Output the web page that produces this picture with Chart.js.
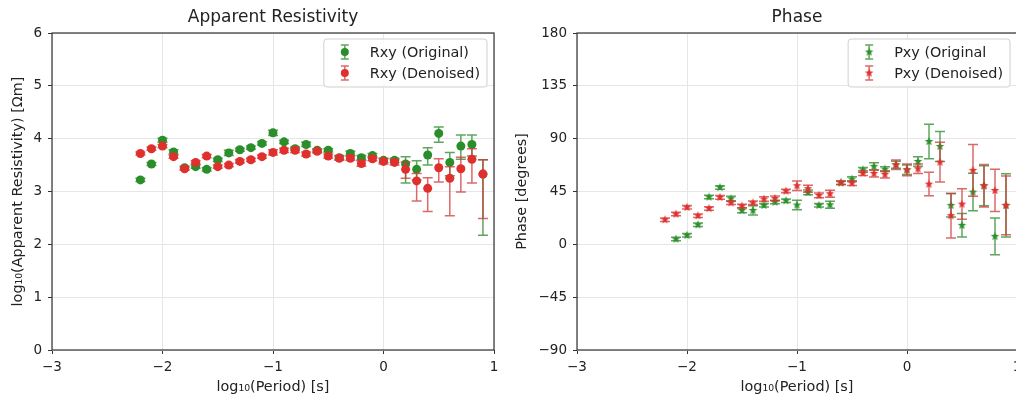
<!DOCTYPE html>
<html>
<head>
<meta charset="utf-8">
<script src="https://cdn.jsdelivr.net/npm/chart.js@4.4.1/dist/chart.umd.min.js"></script>
<style>
  html, body { margin: 0; padding: 0; background: #fff; overflow: hidden; }
  #wrap { position: relative; width: 1016px; height: 398px; overflow: hidden; }
  canvas { position: absolute; top: 0; }
  #rho { left: 0; }
  #phase { left: 508px; }
</style>
</head>
<body>
<div id="wrap">
  <canvas id="rho" width="508" height="398"></canvas>
  <canvas id="phase" width="520" height="398"></canvas>
</div>
<script>
// log10(period) for every estimate
const periods = [-2.2, -2.1, -2.0, -1.9, -1.8, -1.7, -1.6, -1.5, -1.4, -1.3, -1.2, -1.1, -1.0, -0.9, -0.8, -0.7,
                 -0.6, -0.5, -0.4, -0.3, -0.2, -0.1, 0.0, 0.1, 0.2, 0.3, 0.4, 0.5, 0.6, 0.7, 0.8, 0.9];

// apparent resistivity, log10 ohm-m
const rxyOrig = [3.22, 3.52, 3.97, 3.75, 3.45, 3.47, 3.42, 3.60, 3.73, 3.79, 3.83, 3.91, 4.11, 3.94, 3.81, 3.89,
                 3.78, 3.78, 3.64, 3.72, 3.64, 3.68, 3.59, 3.59, 3.52, 3.42, 3.69, 4.10, 3.55, 3.86, 3.89, 3.33];
const rxyOrigErrLo = [0.03, 0.03, 0.04, 0.04, 0.03, 0.03, 0.03, 0.03, 0.05, 0.03, 0.03, 0.03, 0.05, 0.03, 0.03, 0.04,
                      0.03, 0.03, 0.04, 0.04, 0.04, 0.04, 0.04, 0.04, 0.36, 0.20, 0.19, 0.17, 0.25, 0.25, 0.22, 1.16];
const rxyOrigErrHi = [0.03, 0.03, 0.04, 0.04, 0.03, 0.03, 0.03, 0.03, 0.05, 0.03, 0.03, 0.03, 0.05, 0.03, 0.03, 0.04,
                      0.03, 0.03, 0.04, 0.04, 0.04, 0.04, 0.04, 0.04, 0.14, 0.16, 0.14, 0.12, 0.19, 0.21, 0.18, 0.27];
const rxyDen = [3.72, 3.81, 3.86, 3.66, 3.43, 3.55, 3.67, 3.47, 3.50, 3.57, 3.60, 3.66, 3.74, 3.78, 3.78, 3.71,
                3.76, 3.67, 3.63, 3.63, 3.53, 3.62, 3.57, 3.55, 3.42, 3.20, 3.06, 3.45, 3.25, 3.43, 3.61, 3.33];
const rxyDenErrLo = [0.03, 0.03, 0.03, 0.03, 0.03, 0.03, 0.03, 0.03, 0.03, 0.03, 0.03, 0.03, 0.05, 0.04, 0.04, 0.04,
                     0.03, 0.04, 0.04, 0.04, 0.05, 0.04, 0.05, 0.05, 0.17, 0.38, 0.44, 0.27, 0.71, 0.44, 0.45, 0.84];
const rxyDenErrHi = [0.03, 0.03, 0.03, 0.03, 0.03, 0.03, 0.03, 0.03, 0.03, 0.03, 0.03, 0.03, 0.05, 0.04, 0.04, 0.04,
                     0.03, 0.04, 0.04, 0.04, 0.05, 0.04, 0.05, 0.05, 0.14, 0.14, 0.20, 0.17, 0.22, 0.22, 0.20, 0.27];

// phase, degrees
const pxyOrig = [null, 4.5, 7.7, 16.7, 40.3, 48.5, 38.9, 28.9, 28.9, 33.2, 36.0, 37.2, 33.5, 44.2, 33.2, 33.7,
                 52.5, 55.6, 63.5, 66.4, 64.1, 67.8, 63.5, 70.6, 87.6, 83.4, 33.2, 16.2, 44.5, 49.9, 6.8, 33.2];
const pxyOrigErr = [null, 1.5, 1.5, 1.5, 1.5, 1.5, 2, 2, 4, 1.5, 1.5, 1.5, 4, 2, 1.5, 3,
                    1.5, 2, 2, 3, 2, 3, 4, 4, 14.6, 12.8, 10, 10, 16, 17, 15.6, 27];
const pxyDen = [21.0, 25.8, 31.5, 24.4, 30.6, 40.0, 35.4, 32.6, 35.4, 38.6, 39.1, 45.4, 49.9, 47.4, 41.7, 43.1,
                52.5, 52.2, 60.7, 60.4, 59.6, 67.8, 63.5, 64.4, 51.3, 70.0, 24.4, 34.3, 63.0, 49.9, 45.9, 33.2];
const pxyDenErr = [1.5, 1.5, 1.5, 1.5, 1.5, 1.5, 1.5, 1.5, 1.5, 2, 2, 1.5, 4, 3, 2, 3,
                   1.5, 2, 2, 3, 3, 4, 5, 4, 10, 17, 19, 13, 22, 18, 18, 25];

const xTicks = [-3, -2, -1, 0, 1];
const rhoTicks = [0, 1, 2, 3, 4, 5, 6];
const phaseTicks = [-90, -45, 0, 45, 90, 135, 180];

const GREEN = '#2a8f2a';
const RED = '#e0302e';
const GREEN_ERR = 'rgba(40,135,40,0.75)';
const RED_ERR = 'rgba(205,55,55,0.75)';
const FONT = 'DejaVu Sans';

Chart.defaults.font.family = FONT;
Chart.defaults.color = '#222';

// filled 5-point star like matplotlib's '*'
function makeStar(color, r) {
    const c = document.createElement('canvas');
    const s = Math.ceil(r * 2 + 2);
    c.width = s; c.height = s;
    const g = c.getContext('2d');
    g.fillStyle = color;
    g.beginPath();
    for (let i = 0; i < 10; i++) {
        const rad = i % 2 === 0 ? r : r * 0.42;
        const a = -Math.PI / 2 + i * Math.PI / 5;
        const px = s / 2 + rad * Math.cos(a), py = s / 2 + rad * Math.sin(a);
        if (i === 0) g.moveTo(px, py); else g.lineTo(px, py);
    }
    g.closePath();
    g.fill();
    return c;
}

function points(ys) {
    return periods.map((p, i) => ({ x: p, y: ys[i] })).filter(d => d.y != null);
}
function errs(ys, e) {
    return e.filter((v, i) => ys[i] != null);
}

function minus(v) {
    return String(v).replace('-', '\u2212');
}

// vertical error bars drawn just under each dataset's markers
const errorBars = {
    id: 'errorBars',
    beforeDatasetDraw(chart, args) {
        const ds = chart.data.datasets[args.index];
        if (!ds.errLo) return;
        const ctx = chart.ctx, xs = chart.scales.x, ys = chart.scales.y, a = chart.chartArea;
        ctx.save();
        ctx.beginPath();
        ctx.rect(a.left, a.top, a.right - a.left, a.bottom - a.top);
        ctx.clip();
        ctx.strokeStyle = ds.errColor;
        ctx.lineWidth = 1.5;
        ds.data.forEach((d, i) => {
            const px = xs.getPixelForValue(d.x);
            const top = ys.getPixelForValue(d.y + ds.errHi[i]);
            const bot = ys.getPixelForValue(d.y - ds.errLo[i]);
            ctx.beginPath();
            ctx.moveTo(px, top); ctx.lineTo(px, bot);
            ctx.moveTo(px - 5, top); ctx.lineTo(px + 5, top);
            ctx.moveTo(px - 5, bot); ctx.lineTo(px + 5, bot);
            ctx.stroke();
        });
        ctx.restore();
    }
};

// title over the plot area, frame, and an inset legend
const decor = {
    id: 'decor',
    afterDraw(chart, args, opts) {
        const ctx = chart.ctx, a = chart.chartArea;
        ctx.save();
        ctx.strokeStyle = '#333';
        ctx.lineWidth = 1.2;
        ctx.strokeRect(a.left, a.top, a.right - a.left, a.bottom - a.top);

        ctx.fillStyle = '#222';
        ctx.font = '17px ' + FONT;
        ctx.textAlign = 'center';
        ctx.textBaseline = 'middle';
        ctx.fillText(opts.title, (a.left + a.right) / 2, 18);

        // legend
        ctx.font = '14.4px ' + FONT;
        const tw = Math.max(...chart.data.datasets.map(d => ctx.measureText(d.label).width));
        const w = 46 + tw + 7, h = 48;
        const x0 = a.right - 7 - w, y0 = a.top + 6;
        ctx.fillStyle = 'rgba(255,255,255,0.85)';
        ctx.strokeStyle = '#d0d0d0';
        ctx.lineWidth = 1;
        ctx.beginPath();
        ctx.roundRect(x0, y0, w, h, 3);
        ctx.fill();
        ctx.stroke();
        chart.data.datasets.forEach((d, i) => {
            const cy = y0 + 13 + i * 21, ix = x0 + 21;
            ctx.strokeStyle = d.errColor;
            ctx.lineWidth = 1.5;
            ctx.beginPath();
            ctx.moveTo(ix, cy - 7); ctx.lineTo(ix, cy + 7);
            ctx.moveTo(ix - 4, cy - 7); ctx.lineTo(ix + 4, cy - 7);
            ctx.moveTo(ix - 4, cy + 7); ctx.lineTo(ix + 4, cy + 7);
            ctx.stroke();
            if (d.pointStyle === 'circle') {
                ctx.fillStyle = d.backgroundColor;
                ctx.beginPath();
                ctx.arc(ix, cy, 4, 0, Math.PI * 2);
                ctx.fill();
            } else {
                ctx.drawImage(d.pointStyle, ix - d.pointStyle.width / 2, cy - d.pointStyle.height / 2);
            }
            ctx.fillStyle = '#222';
            ctx.textAlign = 'left';
            ctx.fillText(d.label, x0 + 46, cy + 1);
        });
        ctx.restore();
    }
};

function makeChart(id, cfg) {
    return new Chart(document.getElementById(id), {
        type: 'scatter',
        data: { datasets: cfg.datasets },
        plugins: [errorBars, decor],
        options: {
            responsive: false,
            animation: false,
            layout: { padding: { top: 33, right: cfg.padRight, left: 0, bottom: 0 } },
            plugins: {
                legend: { display: false },
                tooltip: { enabled: false },
                decor: { title: cfg.title }
            },
            scales: {
                x: {
                    min: -3, max: 1,
                    afterBuildTicks: s => { s.ticks = xTicks.map(v => ({ value: v })); },
                    afterFit: s => { s.height = 48; },
                    grid: { color: '#e6e6e6', tickColor: '#333', tickLength: 4 },
                    border: { display: false },
                    ticks: { padding: 5, font: { size: 13.5 }, callback: v => minus(v), maxRotation: 0 },
                    title: { display: true, text: 'log\u2081\u2080(Period) [s]', font: { size: 14.4 }, padding: { top: 2, bottom: 2 } }
                },
                y: {
                    min: cfg.yMin, max: cfg.yMax,
                    afterBuildTicks: s => { s.ticks = cfg.yTicks.map(v => ({ value: v })); },
                    afterFit: s => { s.width = cfg.yWidth; },
                    grid: { color: '#e6e6e6', tickColor: '#333', tickLength: 4 },
                    border: { display: false },
                    ticks: { padding: 6, font: { size: 13.5 }, callback: v => minus(v) },
                    title: { display: true, text: cfg.yTitle, font: { size: 14.4 }, padding: { top: cfg.yTitlePad, bottom: 0 } }
                }
            }
        }
    });
}

makeChart('rho', {
    title: 'Apparent Resistivity',
    yTitle: 'log\u2081\u2080(Apparent Resistivity) [\u03A9m]',
    yMin: 0, yMax: 6, yTicks: rhoTicks, yWidth: 52, yTitlePad: 10, padRight: 14,
    datasets: [
        {
            label: 'Rxy (Original)', data: points(rxyOrig), order: 1,
            errLo: errs(rxyOrig, rxyOrigErrLo), errHi: errs(rxyOrig, rxyOrigErrHi), errColor: GREEN_ERR,
            pointStyle: 'circle', pointRadius: 4.5, backgroundColor: GREEN, borderWidth: 0
        },
        {
            label: 'Rxy (Denoised)', data: points(rxyDen), order: 0,
            errLo: errs(rxyDen, rxyDenErrLo), errHi: errs(rxyDen, rxyDenErrHi), errColor: RED_ERR,
            pointStyle: 'circle', pointRadius: 4.5, backgroundColor: RED, borderWidth: 0
        }
    ]
});

makeChart('phase', {
    title: 'Phase',
    yTitle: 'Phase [degrees]',
    yMin: -90, yMax: 180, yTicks: phaseTicks, yWidth: 69, yTitlePad: 6, padRight: 11,
    datasets: [
        {
            label: 'Pxy (Original', data: points(pxyOrig), order: 1,
            errLo: errs(pxyOrig, pxyOrigErr), errHi: errs(pxyOrig, pxyOrigErr), errColor: GREEN_ERR,
            pointStyle: makeStar(GREEN, 4.5), pointRadius: 4, backgroundColor: GREEN, borderWidth: 0
        },
        {
            label: 'Pxy (Denoised)', data: points(pxyDen), order: 0,
            errLo: errs(pxyDen, pxyDenErr), errHi: errs(pxyDen, pxyDenErr), errColor: RED_ERR,
            pointStyle: makeStar(RED, 4.5), pointRadius: 4, backgroundColor: RED, borderWidth: 0
        }
    ]
});
</script>
</body>
</html>
